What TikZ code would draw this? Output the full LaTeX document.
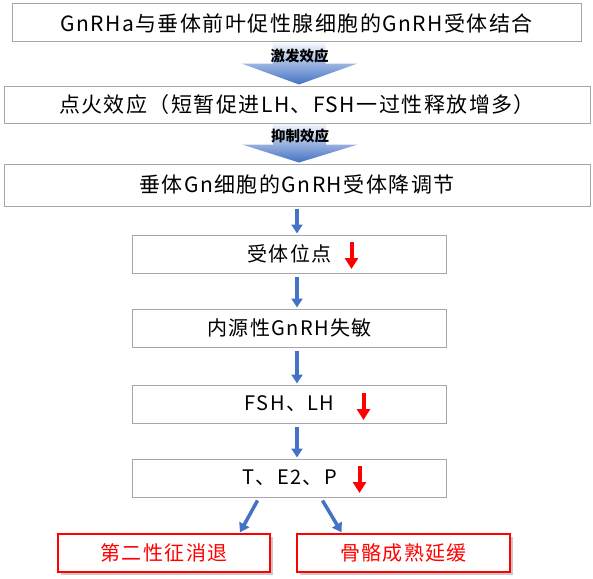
\documentclass[tikz,border=0pt]{standalone}
\usepackage{fontspec}
\setmainfont{Noto Sans CJK SC}
\newfontfamily\cjk[LetterSpace=7]{Noto Sans CJK SC}
\newfontfamily\cjklab{Noto Sans CJK SC}
\usetikzlibrary{calc,arrows.meta,shadows}
\definecolor{arrowblue}{HTML}{4472C4}
\definecolor{arrowtop}{HTML}{F2F6FC}
\definecolor{boxgray}{HTML}{A6A6A6}
\tikzset{
  graybox/.style={draw=boxgray, line width=1pt, inner sep=0pt, anchor=center, font=\cjk\fontsize{20}{22}\selectfont},
  widebox/.style={graybox, font=\cjk\fontsize{21}{22}\selectfont},
  redbox/.style={draw=red, line width=1.3pt, fill=white, inner sep=0pt, text=red,
    font=\cjk\fontsize{20}{22}\selectfont,
    drop shadow={shadow xshift=3pt, shadow yshift=-3pt, opacity=0.35, fill=black!60}},
  bluearrow/.style={draw=arrowblue, line width=3.5pt, -{Triangle[width=11pt,length=9pt]}},
  redarrow/.style={draw=red, line width=4pt, -{Triangle[width=13pt,length=11pt]}},
  biglabel/.style={font=\cjklab\bfseries\fontsize{14.5}{15}\selectfont, inner sep=0pt}
}
\begin{document}
\begin{tikzpicture}[x=1pt,y=-1pt]
\useasboundingbox (0,0) rectangle (593,578);
% boxes
\node[widebox, minimum width=569pt, minimum height=38pt] (b1) at (296.5,23) {GnRHa与垂体前叶促性腺细胞的GnRH受体结合};
\node[widebox, minimum width=586pt, minimum height=37pt] (b2) at (297,104.5) {点火效应（短暂促进LH、FSH一过性释放增多）};
\node[widebox, minimum width=586pt, minimum height=42pt] (b3) at (297,185) {垂体Gn细胞的GnRH受体降调节};
\node[graybox, minimum width=314pt, minimum height=38pt] (b4) at (289.5,254) {受体位点};
\node[graybox, minimum width=314pt, minimum height=38pt] (b5) at (289.5,328) {内源性GnRH失敏};
\node[graybox, minimum width=314pt, minimum height=38pt] (b6) at (289.5,404) {FSH、LH};
\node[graybox, minimum width=314pt, minimum height=38pt] (b7) at (289.5,478) {T、E2、P};
\node[redbox, minimum width=212pt, minimum height=38pt] (r1) at (164,553) {第二性征消退};
\node[redbox, minimum width=213pt, minimum height=38pt] (r2) at (403.5,553) {骨骼成熟延缓};
% big arrow 1
\shade[top color=arrowtop, bottom color=arrowblue]
  ($(b1.south)+(-24,0.5)$) -- ($(b1.south)+(29,0.5)$) -- ($(b1.south)+(29,21)$) -- ($(b1.south)+(61,21)$)
  -- ($(b2.north)+(2,-1)$) -- ($(b1.south)+(-55,21)$) -- ($(b1.south)+(-24,21)$) -- cycle;
\node[biglabel] (l1) at ($(b1.south)+(3,13.5)$) {激发效应};
% big arrow 2
\shade[top color=arrowtop, bottom color=arrowblue]
  ($(b2.south)+(-24,0.5)$) -- ($(b2.south)+(29,0.5)$) -- ($(b2.south)+(29,21)$) -- ($(b2.south)+(61,21)$)
  -- ($(b3.north)+(2,-1)$) -- ($(b2.south)+(-55,21)$) -- ($(b2.south)+(-24,21)$) -- cycle;
\node[biglabel] (l2) at ($(b2.south)+(3,12.5)$) {抑制效应};
% blue arrows (vertical, on the axis of the wide boxes)
\draw[bluearrow] ($(b3.south)+(0,2)$) -- ($(b3.south |- b4.north)+(0,-1)$);
\draw[bluearrow] ($(b4.south -| b3.south)+(0,3)$) -- ($(b5.north -| b3.south)+(0,-1)$);
\draw[bluearrow] ($(b5.south -| b3.south)+(0,3)$) -- ($(b6.north -| b3.south)+(0,-1)$);
\draw[bluearrow] ($(b6.south -| b3.south)+(0,3)$) -- ($(b7.north -| b3.south)+(0,-1)$);
\draw[bluearrow] ($(b7.south)+(-32,3)$) -- ($(r1.north)+(76,-1)$);
\draw[bluearrow] ($(b7.south)+(33,3)$) -- ($(r2.north)+(-62,-1)$);
% red down arrows
\coordinate (a4) at ($(b4.center)+(62,-12)$);
\coordinate (a6) at ($(b6.center)+(74,-11)$);
\coordinate (a7) at ($(b7.center)+(70,-12)$);
\draw[redarrow] (a4) -- ++(0,27);
\draw[redarrow] (a6) -- ++(0,27);
\draw[redarrow] (a7) -- ++(0,27);
\end{tikzpicture}
\end{document}
